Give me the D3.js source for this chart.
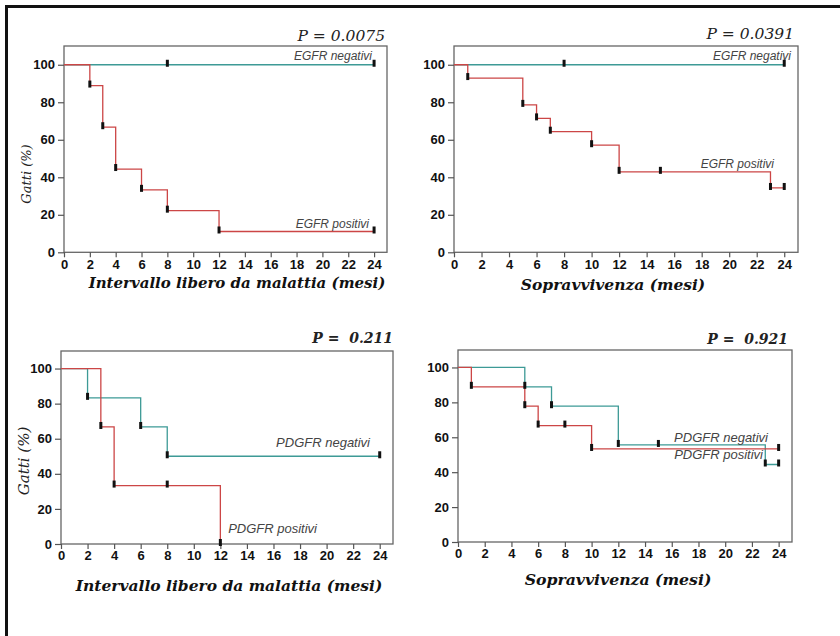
<!DOCTYPE html>
<html lang="it">
<head>
<meta charset="utf-8">
<title>Curve di sopravvivenza EGFR / PDGFR</title>
<script src="https://d3js.org/d3.v7.min.js"></script>
<style type="text/css">
body { margin: 0; background: #fff; }
.tick text {
    font-family: "Liberation Sans", Arial, sans-serif;
    font-weight: bold;
    font-size: 13px;
    fill: #111;
}
.tick line { stroke: #555; stroke-width: 1.2; }
.xtitle {
    font-family: "DejaVu Serif", Georgia, serif;
    font-style: italic;
    font-weight: bold;
    fill: #111;
}
.ytitle {
    font-family: "DejaVu Serif", Georgia, serif;
    font-style: italic;
    fill: #222;
}
.pval {
    font-family: "DejaVu Serif", Georgia, serif;
    font-style: italic;
    fill: #222;
}
.serie {
    font-family: "Liberation Sans", Arial, sans-serif;
    font-style: italic;
    fill: #444;
}
</style>
</head>
<body>
<div id="vis"></div>
<script type="text/javascript">

const xTicks = [0, 2, 4, 6, 8, 10, 12, 14, 16, 18, 20, 22, 24];
const yTicks = [0, 20, 40, 60, 80, 100];

// EGFR - intervallo libero da malattia
const egfrDfsNegT = [0, 24];
const egfrDfsNegS = [100, 100];
const egfrDfsNegMarks = [8, 24];
const egfrDfsPosT = [0, 2, 3, 4, 6, 8, 12, 24];
const egfrDfsPosS = [100, 88.9, 66.7, 44.4, 33.3, 22.2, 11.1, 11.1];
const egfrDfsPosMarks = [2, 3, 4, 6, 8, 12, 24];

// EGFR - sopravvivenza
const egfrOsNegT = [0, 24];
const egfrOsNegS = [100, 100];
const egfrOsNegMarks = [8, 24];
const egfrOsPosT = [0, 1, 5, 6, 7, 10, 12, 23, 24];
const egfrOsPosS = [100, 92.9, 78.6, 71.4, 64.3, 57.1, 42.9, 34.3, 34.3];
const egfrOsPosMarks = [1, 5, 6, 7, 10, 12, 15, 23, 24];

// PDGFR - intervallo libero da malattia
const pdgfrDfsNegT = [0, 2, 6, 8, 24];
const pdgfrDfsNegS = [100, 83.3, 66.7, 50, 50];
const pdgfrDfsNegMarks = [2, 6, 8, 24];
const pdgfrDfsPosT = [0, 3, 4, 12];
const pdgfrDfsPosS = [100, 66.7, 33.3, 0];
const pdgfrDfsPosMarks = [3, 4, 8, 12];

// PDGFR - sopravvivenza
const pdgfrOsNegT = [0, 5, 7, 12, 23, 24];
const pdgfrOsNegS = [100, 88.9, 77.8, 55.6, 44.4, 44.4];
const pdgfrOsNegMarks = [5, 7, 12, 15, 23, 24];
const pdgfrOsPosT = [0, 1, 5, 6, 10, 24];
const pdgfrOsPosS = [100, 88.9, 77.8, 66.7, 53.3, 53.3];
const pdgfrOsPosMarks = [1, 5, 6, 8, 10, 24];

const colNeg = "#3d9a96";
const colPos = "#cc4646";

const width = 840;
const height = 636;

const svg = d3.select("#vis")
    .append("svg")
    .attr("width", width)
    .attr("height", height)
    .style("display", "block");

// outer frame (cropped on the right and bottom)
svg.append("rect")
    .attr("x", 6.5).attr("y", 6.5)
    .attr("width", 900).attr("height", 700)
    .attr("fill", "none")
    .attr("stroke", "#111")
    .attr("stroke-width", 3);

const panels = [
    { x0: 64, x1: 387, y0: 46, y1: 252.3,
      p: "P = 0.0075", pBold: false, px: 385, py: 41,
      xt: "Intervallo libero da malattia (mesi)", xtx: 237, xty: 288, xts: 15,
      yt: true, ytx: 31, yty: 174, yts: 13, lab: 12,
      series: [
        { t: egfrDfsNegT, s: egfrDfsNegS, m: egfrDfsNegMarks, c: colNeg, name: "EGFR negativi", lx: 372, ly: 60 },
        { t: egfrDfsPosT, s: egfrDfsPosS, m: egfrDfsPosMarks, c: colPos, name: "EGFR positivi", lx: 369, ly: 228 }
      ] },
    { x0: 454, x1: 798, y0: 46, y1: 252.3,
      p: "P = 0.0391", pBold: false, px: 794, py: 39,
      xt: "Sopravvivenza (mesi)", xtx: 613, xty: 290, xts: 15.5,
      yt: false, lab: 12,
      series: [
        { t: egfrOsNegT, s: egfrOsNegS, m: egfrOsNegMarks, c: colNeg, name: "EGFR negativi", lx: 791, ly: 60 },
        { t: egfrOsPosT, s: egfrOsPosS, m: egfrOsPosMarks, c: colPos, name: "EGFR positivi", lx: 774, ly: 168 }
      ] },
    { x0: 61, x1: 393, y0: 351, y1: 544,
      p: "P =  0.211", pBold: true, px: 393, py: 343,
      xt: "Intervallo libero da malattia (mesi)", xtx: 229, xty: 591, xts: 15.5,
      yt: true, ytx: 29, yty: 461, yts: 15, lab: 13,
      series: [
        { t: pdgfrDfsNegT, s: pdgfrDfsNegS, m: pdgfrDfsNegMarks, c: colNeg, name: "PDGFR negativi", lx: 370, ly: 447 },
        { t: pdgfrDfsPosT, s: pdgfrDfsPosS, m: pdgfrDfsPosMarks, c: colPos, name: "PDGFR positivi", lx: 317, ly: 533 }
      ] },
    { x0: 458, x1: 792, y0: 350, y1: 542,
      p: "P =  0.921", pBold: true, px: 788, py: 344,
      xt: "Sopravvivenza (mesi)", xtx: 618, xty: 585, xts: 15.7,
      yt: false, lab: 13,
      series: [
        { t: pdgfrOsNegT, s: pdgfrOsNegS, m: pdgfrOsNegMarks, c: colNeg, name: "PDGFR negativi", lx: 768, ly: 442 },
        { t: pdgfrOsPosT, s: pdgfrOsPosS, m: pdgfrOsPosMarks, c: colPos, name: "PDGFR positivi", lx: 763, ly: 459 }
      ] }
];

// survival value at time t (step function)
function survAt(ser, t) {
    let v = ser.s[0];
    ser.t.forEach((tt, i) => { if (tt <= t) v = ser.s[i]; });
    return v;
}

panels.forEach(pn => {
    const xScale = d3.scaleLinear().domain([0, 25]).range([pn.x0, pn.x1]);
    const yScale = d3.scaleLinear().domain([0, 110]).range([pn.y1, pn.y0]);

    const g = svg.append("g");

    // box
    g.append("rect")
        .attr("x", pn.x0).attr("y", pn.y0)
        .attr("width", pn.x1 - pn.x0).attr("height", pn.y1 - pn.y0)
        .attr("fill", "none")
        .attr("stroke", "#666")
        .attr("stroke-width", 1.3);

    const bottomAxis = d3.axisBottom(xScale)
        .tickValues(xTicks)
        .tickSize(5)
        .tickSizeOuter(0)
        .tickPadding(2);

    const leftAxis = d3.axisLeft(yScale)
        .tickValues(yTicks)
        .tickSize(6)
        .tickSizeOuter(0)
        .tickPadding(3);

    const gx = g.append("g")
        .attr("transform", "translate(0," + pn.y1 + ")")
        .call(bottomAxis);
    gx.select(".domain").remove();

    const gy = g.append("g")
        .attr("transform", "translate(" + pn.x0 + ",0)")
        .call(leftAxis);
    gy.select(".domain").remove();

    const line = d3.line()
        .x(d => xScale(d[0]))
        .y(d => yScale(d[1]))
        .curve(d3.curveStepAfter);

    pn.series.forEach(ser => {
        g.append("path")
            .datum(ser.t.map((t, i) => [t, ser.s[i]]))
            .attr("fill", "none")
            .attr("stroke", ser.c)
            .attr("stroke-width", 1.3)
            .attr("d", line);
    });

    // censor / event marks
    pn.series.forEach(ser => {
        g.selectAll(null)
            .data(ser.m)
            .enter()
            .append("rect")
            .attr("x", d => xScale(d) - 1.5)
            .attr("y", d => yScale(survAt(ser, d)) - 5)
            .attr("width", 3)
            .attr("height", 7)
            .attr("fill", "#111");
    });

    // series labels
    pn.series.forEach(ser => {
        g.append("text")
            .attr("class", "serie")
            .attr("x", ser.lx)
            .attr("y", ser.ly)
            .attr("text-anchor", "end")
            .style("font-size", pn.lab + "px")
            .text(ser.name);
    });

    // P value
    g.append("text")
        .attr("class", "pval")
        .attr("x", pn.px)
        .attr("y", pn.py)
        .attr("text-anchor", "end")
        .style("font-size", pn.pBold ? "14px" : "15.5px")
        .style("font-weight", pn.pBold ? "bold" : "normal")
        .attr("xml:space", "preserve")
        .text(pn.p);

    // x title
    g.append("text")
        .attr("class", "xtitle")
        .attr("x", pn.xtx)
        .attr("y", pn.xty)
        .attr("text-anchor", "middle")
        .style("font-size", pn.xts + "px")
        .text(pn.xt);

    // y title
    if (pn.yt) {
        g.append("text")
            .attr("class", "ytitle")
            .attr("transform", "translate(" + pn.ytx + "," + pn.yty + ") rotate(-90)")
            .attr("text-anchor", "middle")
            .style("font-size", pn.yts + "px")
            .text("Gatti (%)");
    }
});

</script>
</body>
</html>
